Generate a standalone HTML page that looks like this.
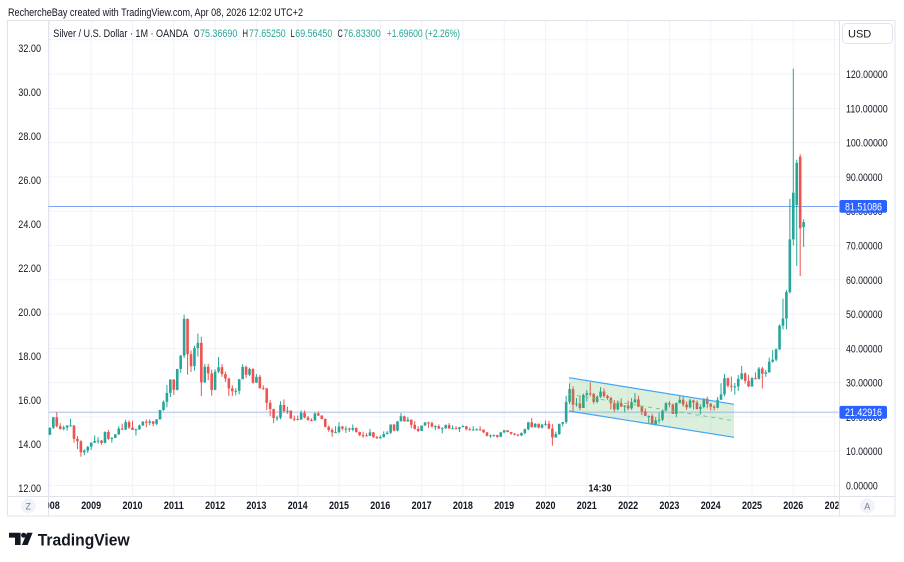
<!DOCTYPE html>
<html><head><meta charset="utf-8"><style>
html,body{margin:0;padding:0;background:#fff;}
svg{display:block;font-family:"Liberation Sans",sans-serif;}
</style></head><body>
<svg id="s" width="904" height="562" viewBox="0 0 904 562" xmlns="http://www.w3.org/2000/svg">
<defs>
<clipPath id="plot"><rect x="48.5" y="20.5" width="790" height="475"/></clipPath>
<clipPath id="tax"><rect x="48.5" y="497" width="790" height="18"/></clipPath>
</defs>
<rect width="904" height="562" fill="#fff"/>
<text x="8" y="16" font-size="11" fill="#131722" textLength="295" lengthAdjust="spacingAndGlyphs">RechercheBay created with TradingView.com, Apr 08, 2026 12:02 UTC+2</text>
<g id="grid" stroke="#f0f3fa" stroke-width="1"></g>
<rect x="7.5" y="20.5" width="887.5" height="495.5" fill="none" stroke="#e0e3eb"/>
<line x1="48.5" y1="20" x2="48.5" y2="516" stroke="#e0e3eb"/>
<line x1="839.5" y1="20" x2="839.5" y2="516" stroke="#e0e3eb"/>
<line x1="7" y1="496.5" x2="895" y2="496.5" stroke="#e0e3eb"/>
<g clip-path="url(#plot)">
<line x1="48" y1="206.5" x2="839" y2="206.5" stroke="#7da2f6" stroke-width="1"/>
<line x1="48" y1="412.3" x2="839" y2="412.3" stroke="#c3d4fb" stroke-width="1.6"/>
<g id="c"></g>
<polygon points="569,377.7 734,404.3 734,437.3 569,411" fill="rgba(76,175,80,0.2)"/>
<line x1="569" y1="377.7" x2="734" y2="404.3" stroke="#42a5f5" stroke-width="1.2"/>
<line x1="569" y1="411" x2="734" y2="437.3" stroke="#42a5f5" stroke-width="1.2"/>
<line x1="569" y1="394.3" x2="734" y2="420.8" stroke="#81c784" stroke-width="1" stroke-dasharray="4,4"/>
</g>
<g font-size="11" fill="#131722">
<text x="53.3" y="37" textLength="135" lengthAdjust="spacingAndGlyphs">Silver / U.S. Dollar · 1M · OANDA</text>
<text x="194" y="37" textLength="5.5" lengthAdjust="spacingAndGlyphs">O</text><text x="200" y="37" fill="#26a69a" textLength="37.3" lengthAdjust="spacingAndGlyphs">75.36690</text>
<text x="242.5" y="37" textLength="5.5" lengthAdjust="spacingAndGlyphs">H</text><text x="249" y="37" fill="#26a69a" textLength="36.7" lengthAdjust="spacingAndGlyphs">77.65250</text>
<text x="290.5" y="37" textLength="4.2" lengthAdjust="spacingAndGlyphs">L</text><text x="295.3" y="37" fill="#26a69a" textLength="37" lengthAdjust="spacingAndGlyphs">69.56450</text>
<text x="337.5" y="37" textLength="5.3" lengthAdjust="spacingAndGlyphs">C</text><text x="343.3" y="37" fill="#26a69a" textLength="37.4" lengthAdjust="spacingAndGlyphs">76.83300</text>
<text x="386.7" y="37" fill="#26a69a" textLength="73.3" lengthAdjust="spacingAndGlyphs">+1.69600 (+2.26%)</text>
</g>
<g font-size="11" fill="#131722" text-anchor="end">
<text x="41" y="52" textLength="22.7" lengthAdjust="spacingAndGlyphs">32.00</text>
<text x="41" y="96" textLength="22.7" lengthAdjust="spacingAndGlyphs">30.00</text>
<text x="41" y="140" textLength="22.7" lengthAdjust="spacingAndGlyphs">28.00</text>
<text x="41" y="184" textLength="22.7" lengthAdjust="spacingAndGlyphs">26.00</text>
<text x="41" y="228" textLength="22.7" lengthAdjust="spacingAndGlyphs">24.00</text>
<text x="41" y="272" textLength="22.7" lengthAdjust="spacingAndGlyphs">22.00</text>
<text x="41" y="316" textLength="22.7" lengthAdjust="spacingAndGlyphs">20.00</text>
<text x="41" y="360" textLength="22.7" lengthAdjust="spacingAndGlyphs">18.00</text>
<text x="41" y="404" textLength="22.7" lengthAdjust="spacingAndGlyphs">16.00</text>
<text x="41" y="448" textLength="22.7" lengthAdjust="spacingAndGlyphs">14.00</text>
<text x="41" y="492" textLength="22.7" lengthAdjust="spacingAndGlyphs">12.00</text>
</g>
<g font-size="11" fill="#131722">
<text x="846" y="78" textLength="41.7" lengthAdjust="spacingAndGlyphs">120.00000</text>
<text x="846" y="112.4" textLength="41.7" lengthAdjust="spacingAndGlyphs">110.00000</text>
<text x="846" y="146.6" textLength="41.7" lengthAdjust="spacingAndGlyphs">100.00000</text>
<text x="846" y="180.9" textLength="36.5" lengthAdjust="spacingAndGlyphs">90.00000</text>
<text x="846" y="215.2" textLength="36.5" lengthAdjust="spacingAndGlyphs">80.00000</text>
<text x="846" y="249.5" textLength="36.5" lengthAdjust="spacingAndGlyphs">70.00000</text>
<text x="846" y="283.8" textLength="36.5" lengthAdjust="spacingAndGlyphs">60.00000</text>
<text x="846" y="318.1" textLength="36.5" lengthAdjust="spacingAndGlyphs">50.00000</text>
<text x="846" y="352.4" textLength="36.5" lengthAdjust="spacingAndGlyphs">40.00000</text>
<text x="846" y="386.6" textLength="36.5" lengthAdjust="spacingAndGlyphs">30.00000</text>
<text x="846" y="420.9" textLength="36.5" lengthAdjust="spacingAndGlyphs">20.00000</text>
<text x="846" y="455.2" textLength="36.5" lengthAdjust="spacingAndGlyphs">10.00000</text>
<text x="846" y="489.5" textLength="31.7" lengthAdjust="spacingAndGlyphs">0.00000</text>
</g>
<rect x="839.5" y="200" width="47.5" height="12.8" rx="2" fill="#2962ff"/>
<text x="845" y="210.3" font-size="11" fill="#fff" textLength="37" lengthAdjust="spacingAndGlyphs">81.51086</text>
<rect x="839.5" y="405.9" width="47.5" height="12.8" rx="2" fill="#2962ff"/>
<text x="845" y="416.2" font-size="11" fill="#fff" textLength="37" lengthAdjust="spacingAndGlyphs">21.42916</text>
<rect x="842.5" y="23.5" width="50" height="20" rx="4" fill="#fff" stroke="#e0e3eb"/>
<text x="848" y="37.5" font-size="11" fill="#131722">USD</text>
<circle cx="867.3" cy="506" r="7.5" fill="#f0f3fa"/>
<text x="867.3" y="509.5" font-size="9" fill="#787b86" text-anchor="middle">A</text>
<circle cx="28.3" cy="506" r="7.5" fill="#f0f3fa"/>
<text x="28.3" y="509.5" font-size="9" fill="#787b86" text-anchor="middle">Z</text>
<g clip-path="url(#tax)" font-size="11" font-weight="bold" fill="#131722" text-anchor="middle">
<text x="49.8" y="509" textLength="20" lengthAdjust="spacingAndGlyphs">2008</text>
<text x="91.2" y="509" textLength="20" lengthAdjust="spacingAndGlyphs">2009</text>
<text x="132.5" y="509" textLength="20" lengthAdjust="spacingAndGlyphs">2010</text>
<text x="173.8" y="509" textLength="20" lengthAdjust="spacingAndGlyphs">2011</text>
<text x="215.1" y="509" textLength="20" lengthAdjust="spacingAndGlyphs">2012</text>
<text x="256.4" y="509" textLength="20" lengthAdjust="spacingAndGlyphs">2013</text>
<text x="297.7" y="509" textLength="20" lengthAdjust="spacingAndGlyphs">2014</text>
<text x="339" y="509" textLength="20" lengthAdjust="spacingAndGlyphs">2015</text>
<text x="380.3" y="509" textLength="20" lengthAdjust="spacingAndGlyphs">2016</text>
<text x="421.6" y="509" textLength="20" lengthAdjust="spacingAndGlyphs">2017</text>
<text x="462.9" y="509" textLength="20" lengthAdjust="spacingAndGlyphs">2018</text>
<text x="504.2" y="509" textLength="20" lengthAdjust="spacingAndGlyphs">2019</text>
<text x="545.5" y="509" textLength="20" lengthAdjust="spacingAndGlyphs">2020</text>
<text x="586.8" y="509" textLength="20" lengthAdjust="spacingAndGlyphs">2021</text>
<text x="628.1" y="509" textLength="20" lengthAdjust="spacingAndGlyphs">2022</text>
<text x="669.4" y="509" textLength="20" lengthAdjust="spacingAndGlyphs">2023</text>
<text x="710.7" y="509" textLength="20" lengthAdjust="spacingAndGlyphs">2024</text>
<text x="752" y="509" textLength="20" lengthAdjust="spacingAndGlyphs">2025</text>
<text x="793.3" y="509" textLength="20" lengthAdjust="spacingAndGlyphs">2026</text>
<text x="834.6" y="509" textLength="20" lengthAdjust="spacingAndGlyphs">2027</text>
</g>
<text x="600" y="491.5" font-size="10" font-weight="bold" fill="#131722" text-anchor="middle" textLength="23" lengthAdjust="spacingAndGlyphs">14:30</text>
<g fill="#131722">
<path d="M9,532.7 H20.6 V545 H15 V537.6 H9 Z"/>
<circle cx="23.6" cy="535.2" r="2.5"/>
<path d="M27,532.7 H32.6 L27.6,545 H21.9 Z"/>
</g>
<text x="37.7" y="545.3" font-size="17" font-weight="bold" fill="#131722" textLength="92" lengthAdjust="spacingAndGlyphs">TradingView</text>
</svg>
<script>
(function(){
var grid=document.getElementById('grid');
var g='';
for(var k=0;k<=13;k++){var y=(485.5-34.286*k).toFixed(1);g+='<line x1="48" y1="'+y+'" x2="839" y2="'+y+'"/>';}
for(var Y=2008;Y<=2027;Y++){var x=(545.5+(Y-2020)*41.3).toFixed(1);g+='<line x1="'+x+'" y1="20" x2="'+x+'" y2="496"/>';}
grid.innerHTML=g;
var D={
2008:[[14.8,16.9,14.7,16.85],[16.85,20.0,16.5,19.9],[19.9,21.4,16.9,17.3],[17.3,18.2,16.3,16.5],[16.5,17.5,16.1,16.9],[16.9,17.6,16.0,17.5],[17.5,19.5,17.3,17.5],[17.5,17.6,12.5,13.6],[13.6,14.4,10.6,12.9],[12.9,13.2,8.4,9.7],[9.7,10.6,8.8,10.2],[10.2,11.5,9.5,11.3]],
2009:[[11.3,12.6,10.4,12.5],[12.5,14.6,12.4,13.0],[13.0,14.1,12.2,13.1],[13.1,13.3,11.9,12.4],[12.4,15.8,12.3,15.6],[15.6,16.2,13.3,13.6],[13.6,14.1,12.5,13.9],[13.9,15.0,13.8,14.9],[14.9,17.3,14.8,16.6],[16.6,18.0,16.2,16.3],[16.3,19.2,16.2,18.5],[18.5,19.0,16.5,16.9]],
2010:[[16.9,18.9,16.2,16.2],[16.2,16.6,14.6,16.4],[16.4,17.8,16.2,17.5],[17.5,18.8,17.4,18.6],[18.6,19.3,17.0,18.3],[18.3,19.3,17.6,18.7],[18.7,18.8,17.3,18.0],[18.0,19.3,17.6,19.3],[19.3,22.1,19.2,22.0],[22.0,24.8,21.8,24.4],[24.4,29.3,22.8,27.0],[27.0,31.0,25.8,30.9]],
2011:[[30.9,31.0,26.4,27.9],[27.9,34.0,27.7,34.0],[34.0,38.0,32.9,37.9],[37.9,49.8,37.2,48.6],[48.6,48.7,32.3,38.3],[38.3,39.4,33.1,34.8],[34.8,40.8,33.5,40.1],[40.1,44.3,37.6,41.6],[41.6,43.4,26.1,30.1],[30.1,35.4,29.9,34.6],[34.6,35.5,30.7,32.7],[32.7,33.8,26.2,27.9]],
2012:[[27.9,33.9,27.8,33.2],[33.2,37.5,32.8,34.5],[34.5,35.4,31.7,32.5],[32.5,33.2,30.2,31.2],[31.2,31.4,26.1,28.3],[28.3,29.2,26.1,27.5],[27.5,28.4,26.3,27.6],[27.6,31.0,26.6,31.0],[31.0,35.4,31.0,34.6],[34.6,35.0,31.3,32.3],[32.3,34.4,31.9,34.0],[34.0,34.2,29.7,30.0]],
2013:[[30.0,32.5,29.9,31.7],[31.7,32.3,28.2,28.4],[28.4,29.2,27.9,28.3],[28.3,28.5,22.0,24.1],[24.1,24.9,20.2,22.3],[22.3,22.4,18.2,19.7],[19.7,20.4,18.8,19.8],[19.8,24.6,19.3,23.5],[23.5,25.1,21.2,21.7],[21.7,23.0,20.9,21.8],[21.8,22.0,19.6,19.5],[19.5,20.4,18.8,19.4]],
2014:[[19.4,20.4,19.0,19.2],[19.2,21.9,19.2,21.2],[21.2,21.9,19.6,19.8],[19.8,20.3,18.9,19.1],[19.1,19.6,18.7,19.0],[19.0,21.3,18.8,21.0],[21.0,21.6,20.3,20.4],[20.4,20.5,19.3,19.4],[19.4,19.6,17.0,17.1],[17.1,17.5,15.7,16.2],[16.2,16.7,14.2,15.5],[15.5,17.3,15.3,15.6]],
2015:[[15.6,18.5,15.2,17.2],[17.2,17.4,16.1,16.6],[16.6,17.3,15.3,16.6],[16.6,16.9,15.6,16.3],[16.3,17.8,15.8,16.8],[16.8,16.9,15.4,15.6],[15.6,15.7,14.4,14.7],[14.7,15.7,13.9,14.6],[14.6,15.3,14.3,14.5],[14.5,16.5,14.4,15.5],[15.5,15.6,13.9,14.1],[14.1,14.5,13.6,13.8]],
2016:[[13.8,14.6,13.6,14.1],[14.1,15.8,14.0,15.0],[15.0,15.9,14.9,15.4],[15.4,17.8,15.0,17.8],[17.8,17.9,15.8,16.0],[16.0,18.8,15.8,18.7],[18.7,21.1,18.7,20.2],[20.2,20.4,18.6,18.7],[18.7,20.0,18.6,19.2],[19.2,19.3,16.7,17.7],[17.7,18.8,16.3,16.5],[16.5,17.3,15.6,15.9]],
2017:[[15.9,17.5,15.9,17.5],[17.5,18.5,17.4,18.4],[18.4,18.6,16.8,18.2],[18.2,18.6,16.9,17.2],[17.2,17.6,16.2,17.3],[17.3,17.8,16.5,16.6],[16.6,17.0,15.2,16.7],[16.7,17.8,16.5,17.6],[17.6,18.2,16.6,16.6],[16.6,17.5,16.5,16.7],[16.7,17.3,16.5,16.5],[16.5,17.1,15.6,17.0]],
2018:[[17.0,17.7,17.0,17.3],[17.3,17.3,16.1,16.4],[16.4,16.9,16.1,16.3],[16.3,17.3,16.1,16.3],[16.3,16.7,16.0,16.4],[16.4,17.3,16.0,16.3],[16.3,16.2,15.3,15.5],[15.5,15.6,14.3,14.5],[14.5,14.9,13.9,14.6],[14.6,14.9,14.2,14.7],[14.7,14.8,13.9,14.2],[14.2,15.6,14.1,15.5]],
2019:[[15.5,16.2,15.3,16.1],[16.1,16.1,15.5,15.6],[15.6,15.6,14.8,15.1],[15.1,15.3,14.6,14.9],[14.9,15.0,14.3,14.6],[14.6,15.5,14.4,15.3],[15.3,16.6,14.9,16.4],[16.4,18.6,16.1,18.4],[18.4,19.7,17.0,17.0],[17.0,18.2,16.9,18.0],[18.0,18.1,16.6,16.9],[16.9,17.9,16.6,17.8]],
2020:[[17.8,18.9,17.4,18.0],[18.0,18.9,16.4,16.6],[16.6,17.9,11.6,14.0],[14.0,15.7,14.0,15.0],[15.0,18.0,14.8,18.0],[18.0,18.5,17.2,18.5],[18.5,26.2,18.0,24.4],[24.4,29.8,23.8,28.1],[28.1,28.9,21.7,23.6],[23.6,25.5,23.0,23.9],[23.9,26.0,21.9,22.6],[22.6,26.8,22.6,26.4]],
2021:[[26.4,27.8,24.5,26.9],[26.9,30.1,26.0,26.7],[26.7,27.0,23.8,24.4],[24.4,26.3,24.0,25.9],[25.9,28.7,25.5,27.4],[27.4,28.3,25.6,26.1],[26.1,26.5,25.0,25.5],[25.5,25.9,22.2,24.0],[24.0,24.9,21.5,22.2],[22.2,24.8,21.9,24.0],[24.0,25.4,22.9,23.0],[23.0,23.4,21.4,23.3]],
2022:[[23.3,24.7,22.0,22.5],[22.5,25.5,22.1,24.3],[24.3,27.0,24.0,25.1],[25.1,26.2,22.8,23.0],[23.0,23.0,20.5,21.6],[21.6,22.5,20.5,20.3],[20.3,20.4,18.1,20.3],[20.3,20.9,17.8,17.8],[17.8,19.9,17.6,19.0],[19.0,21.2,18.1,19.2],[19.2,22.2,18.8,21.8],[21.8,24.3,21.6,24.0]],
2023:[[24.0,24.6,22.8,23.6],[23.6,23.9,20.9,20.9],[20.9,24.2,19.9,24.1],[24.1,26.1,23.9,25.0],[25.0,26.1,23.0,23.6],[23.6,24.5,22.1,22.8],[22.8,25.3,22.5,24.8],[24.8,25.0,22.2,24.2],[24.2,24.8,22.1,22.3],[22.3,23.7,20.7,22.9],[22.9,25.5,22.5,25.3],[25.3,25.9,22.5,23.8]],
2024:[[23.8,24.1,21.9,23.0],[23.0,23.4,21.9,22.7],[22.7,25.8,22.5,25.0],[25.0,29.8,25.0,26.6],[26.6,32.5,26.0,31.3],[31.3,31.5,28.6,29.1],[29.1,31.8,27.4,28.9],[28.9,29.9,26.5,28.9],[28.9,32.2,27.6,31.1],[31.1,34.9,30.8,32.7],[32.7,33.0,29.7,30.5],[30.5,32.3,28.7,28.9]],
2025:[[28.9,31.6,28.8,31.3],[31.3,33.0,31.0,31.1],[31.1,34.6,30.9,34.1],[34.1,34.6,28.3,32.6],[32.6,33.7,31.7,33.0],[33.0,37.3,32.9,36.1],[36.1,39.5,35.8,36.7],[36.7,40.0,36.2,39.7],[39.7,47.0,39.6,46.6],[46.6,54.5,45.5,48.7],[48.7,57.0,45.6,56.4],[56.4,83.6,56.0,71.8]],
2026:[[71.8,121.6,70.0,85.4],[81.8,95.0,64.0,94.1],[95.9,96.6,61.1,75.0],[75.3669,77.6525,69.5645,76.833]]
};
function yp(p){return 485.5-p*3.4286;}
var s='';
for(var Y=2008;Y<=2026;Y++){
 var arr=D[Y];
 for(var m=0;m<arr.length;m++){
  var o=arr[m][0],h=arr[m][1],l=arr[m][2],c=arr[m][3];
  var x=545.5+(Y-2020)*41.3+m*3.442;
  var col=c>=o?'#26a69a':'#ef5350';
  var yh=yp(Math.max(h,o,c)),yl=yp(Math.min(l,o,c));
  s+='<rect x="'+(x-0.5).toFixed(2)+'" y="'+yh.toFixed(2)+'" width="1" height="'+(yl-yh).toFixed(2)+'" fill="'+col+'"/>';
  var t=Math.min(yp(o),yp(c)),b=Math.max(yp(o),yp(c));
  var hh=Math.max(1,b-t);
  s+='<rect x="'+(x-1.3).toFixed(2)+'" y="'+t.toFixed(2)+'" width="2.6" height="'+hh.toFixed(2)+'" fill="'+col+'"/>';
 }
}
document.getElementById('c').innerHTML=s;
})();
</script>
</body></html>
